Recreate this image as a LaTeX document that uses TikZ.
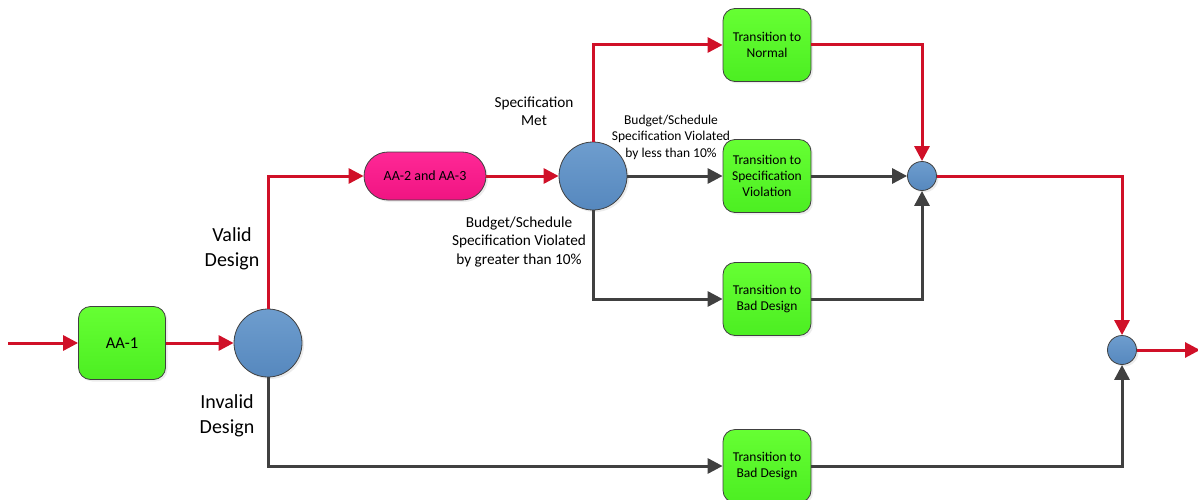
\documentclass[tikz,border=0pt]{standalone}
\usepackage{fontspec}
\setmainfont{Carlito}
\usetikzlibrary{arrows.meta,shadows}
\definecolor{redl}{RGB}{208,16,40}
\definecolor{grayl}{RGB}{64,64,64}
\definecolor{greenT}{RGB}{102,255,51}
\definecolor{greenB}{RGB}{76,238,34}
\definecolor{blueT}{RGB}{110,157,206}
\definecolor{blueB}{RGB}{86,136,190}
\definecolor{pinkT}{RGB}{255,40,150}
\definecolor{pinkB}{RGB}{240,20,130}
\tikzset{
  x=1pt, y=-1pt,
  gbox/.style={draw=grayl, line width=0.8pt, rounded corners=12pt, minimum width=88pt, minimum height=73pt,
    top color=greenT, bottom color=greenB, align=center, font=\fontsize{13.5}{16}\selectfont, text=black,
    drop shadow={shadow xshift=2pt, shadow yshift=-2pt, opacity=0.15}},
  bigc/.style={circle, draw=grayl, line width=0.8pt, minimum size=68pt, inner sep=0pt, top color=blueT, bottom color=blueB,
    drop shadow={shadow xshift=2pt, shadow yshift=-2pt, opacity=0.15}},
  smallc/.style={circle, draw=grayl, line width=0.8pt, minimum size=29pt, inner sep=0pt, top color=blueT, bottom color=blueB,
    drop shadow={shadow xshift=2pt, shadow yshift=-2pt, opacity=0.15}},
  redarr/.style={draw=redl, line width=3pt, -{Triangle[length=15pt,width=15pt]}},
  grayarr/.style={draw=grayl, line width=3pt, -{Triangle[length=15pt,width=15pt]}},
  lbl/.style={align=center, text=black},
}
\begin{document}
\begin{tikzpicture}
\useasboundingbox (0,0) rectangle (1198,500);
% nodes
\coordinate (in) at (8,343);
\node[gbox, minimum width=87pt, font=\fontsize{16.5}{19}\selectfont] (aa1) at (122,343) {AA-1};
\node[bigc] (c1) at (268,343) {};
\node[draw=grayl, line width=0.8pt, rounded corners=24pt, minimum width=122pt, minimum height=48pt,
  top color=pinkT, bottom color=pinkB, font=\fontsize{14}{16}\selectfont,
  drop shadow={shadow xshift=2pt, shadow yshift=-2pt, opacity=0.15}] (aa2) at (425,176) {AA-2 and AA-3};
\node[bigc] (c2) at (593,176) {};
\node[gbox] (nor) at (767,45) {Transition to\\Normal};
\node[gbox] (spv) at (767,176) {Transition to\\Specification\\Violation};
\node[gbox] (bd1) at (767,299) {Transition to\\Bad Design};
\node[gbox] (bd2) at (767,466) {Transition to\\Bad Design};
\node[smallc] (c3) at (922,176) {};
\node[smallc] (c4) at (1122,350) {};
\coordinate (out) at (1198,350);
% labels
\node[lbl, font=\fontsize{20}{25}\selectfont] (lv) at (232,249) {Valid\\Design};
\node[lbl, font=\fontsize{20}{25}\selectfont] (li) at (227,416) {Invalid\\Design};
\node[lbl, font=\fontsize{15.3}{17.7}\selectfont] (lm) at (534,111) {Specification\\Met};
\node[lbl, font=\fontsize{13.5}{16.5}\selectfont] (ll) at (671,137) {Budget/Schedule\\Specification Violated\\by less than 10\%};
\node[lbl, font=\fontsize{15.3}{18.5}\selectfont] (lg) at (519,242) {Budget/Schedule\\Specification Violated\\by greater than 10\%};
% connectors
\draw[redarr] (in) -- (aa1.west);
\draw[redarr] (aa1.east) -- (c1.west);
\draw[redarr] (c1.north) |- (aa2.west);
\draw[redarr] (aa2.east) -- (c2.west);
\draw[redarr] (c2.north) |- (nor.west);
\draw[grayarr] (c2.east) -- (spv.west);
\draw[grayarr] (c2.south) |- (bd1.west);
\draw[redarr] (nor.east) -| (c3.north);
\draw[grayarr] (spv.east) -- (c3.west);
\draw[grayarr] (bd1.east) -| (c3.south);
\draw[redarr] (c3.east) -| (c4.north);
\draw[redarr, shorten >=-2pt] (c4.east) -- (out);
\draw[grayarr] (c1.south) |- (bd2.west);
\draw[grayarr] (bd2.east) -| (c4.south);
\end{tikzpicture}
\end{document}
